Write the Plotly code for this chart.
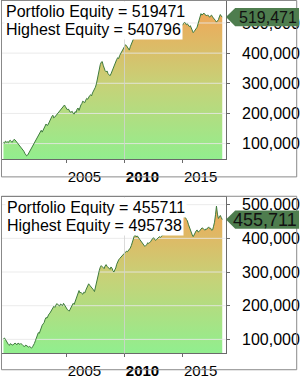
import plotly.graph_objects as go
import pandas as pd

# ---------------- data ----------------
start_date = "1999-08-01"   # monthly points

top_equity = [
    104000, 101000, 108000, 105000, 106000, 103000, 109000, 111000, 107000, 104000,
    110000, 114000, 112000, 108000, 102000, 97000, 93000, 90000, 86000, 83000,
    79000, 75000, 68000, 63000, 59000, 62000, 68000, 74000, 80000, 86000,
    93000, 97000, 105000, 112000, 118000, 122000, 128000, 133000, 140000, 144000,
    138000, 147000, 155000, 158000, 165000, 160000, 162000, 170000, 175000, 182000,
    190000, 194000, 185000, 188000, 192000, 197000, 200000, 203000, 208000, 212000,
    215000, 219000, 225000, 228000, 222000, 216000, 212000, 215000, 208000, 204000,
    205000, 207000, 200000, 198000, 206000, 203000, 214000, 218000, 210000, 220000,
    228000, 233000, 241000, 238000, 236000, 244000, 250000, 247000, 255000, 259000,
    262000, 258000, 268000, 273000, 280000, 287000, 298000, 318000, 335000, 350000,
    362000, 370000, 372000, 360000, 345000, 342000, 338000, 341000, 332000, 328000,
    325000, 331000, 340000, 344000, 352000, 364000, 375000, 379000, 385000, 382000,
    392000, 399000, 405000, 411000, 418000, 424000, 428000, 425000, 420000, 414000,
    410000, 421000, 432000, 437000, 445000, 450000, 455000, 462000, 470000, 474000,
    480000, 486000, 492000, 495000, 500000, 503000, 505000, 501000, 498000, 504000,
    510000, 516000, 520000, 517000, 515000, 521000, 528000, 532000, 535000, 531000,
    540796, 536000, 532000, 528000, 525000, 521000, 518000, 522000, 526000, 529000,
    530000, 526000, 522000, 517000, 512000, 508000, 505000, 510000, 515000, 511000,
    508000, 504000, 500000, 498000, 496000, 493000, 499000, 502000, 500000, 494000,
    497000, 492000, 488000, 491000, 484000, 476000, 468000, 472000, 478000, 481000,
    486000, 497000, 510000, 521000, 531000, 526000, 529000, 533000, 528000, 525000,
    524000, 527000, 522000, 519000, 524000, 526000, 520000, 517000, 513000, 508000,
    503000, 506000, 511000, 520000, 528000, 523000, 519471,
]

bottom_equity = [
    102000, 104000, 100000, 94000, 90000, 85000, 82000, 87000, 86000, 83000,
    84000, 88000, 89000, 86000, 84000, 89000, 86000, 85000, 88000, 84000,
    82000, 80000, 79000, 83000, 81000, 78000, 77000, 79000, 76000, 74000,
    78000, 82000, 88000, 96000, 104000, 112000, 120000, 118000, 128000, 136000,
    142000, 146000, 150000, 159000, 165000, 163000, 170000, 175000, 178000, 184000,
    188000, 192000, 198000, 195000, 200000, 206000, 204000, 201000, 199000, 205000,
    203000, 200000, 207000, 202000, 196000, 191000, 188000, 186000, 184000, 190000,
    195000, 202000, 207000, 204000, 212000, 216000, 222000, 236000, 245000, 238000,
    240000, 236000, 234000, 240000, 238000, 246000, 252000, 260000, 265000, 261000,
    258000, 255000, 252000, 247000, 242000, 256000, 268000, 280000, 292000, 305000,
    314000, 319000, 316000, 312000, 310000, 318000, 322000, 317000, 314000, 310000,
    308000, 315000, 312000, 304000, 300000, 306000, 312000, 323000, 332000, 336000,
    340000, 344000, 347000, 350000, 352000, 356000, 358000, 362000, 360000, 363000,
    366000, 371000, 378000, 390000, 400000, 406000, 410000, 404000, 408000, 403000,
    400000, 396000, 392000, 388000, 384000, 380000, 376000, 379000, 381000, 387000,
    385000, 388000, 390000, 395000, 399000, 402000, 398000, 394000, 396000, 399000,
    400000, 405000, 403000, 407000, 408000, 411000, 410000, 414000, 412000, 417000,
    415000, 419000, 422000, 428000, 432000, 437000, 440000, 444000, 446000, 449000,
    452000, 455000, 458000, 461000, 462000, 466000, 465000, 463000, 462000, 456000,
    452000, 442000, 432000, 426000, 420000, 410000, 405000, 412000, 418000, 422000,
    425000, 419000, 420000, 424000, 426000, 431000, 430000, 426000, 424000, 428000,
    427000, 431000, 434000, 429000, 430000, 424000, 425000, 436000, 448000, 470000,
    495738, 472000, 459000, 463000, 468000, 462000, 455711,
]

top_current, top_highest = 519471, 540796
bottom_current, bottom_highest = 455711, 495738

x_tick_years = [2005, 2010, 2015]
bold_years = [2010]
grid_years = [2010]
y_tick_vals = [100000, 200000, 300000, 400000, 500000]

x_range = ["1999-06-16", "2018-09-22"]
top_y_range = [48000, 573000]
bottom_y_range = [58400, 523500]

# ---------------- style ----------------
W, H = 300, 379
FONT = "Arial, Liberation Sans, sans-serif"
LINE_GREEN = "#3e7b3e"
BADGE_GREEN = "#4e7d4e"
GRAD = [[0.0, "#92ee8e"], [0.5, "#c6d278"], [1.0, "#f0a758"]]
AXIS_GRAY = "#6a6a6a"
FRAME_GRAY = "#8a8a8a"
GRID_COLOR = "rgba(232,232,232,0.85)"
PLOT_X0, PLOT_X1 = 2.0, 226.6


def py(px):
    """pixel row -> paper y"""
    return 1 - px / H


def px_x(px):
    return px / W


fig = go.Figure()

panels = [
    dict(vals=top_equity, cur=top_current, hi=top_highest, yr=top_y_range,
         dom=[py(162.7), py(1.0)], ax="", top=1.0, frame=(0.5, 180.7),
         badge_font=16, text_left=4.0),
    dict(vals=bottom_equity, cur=bottom_current, hi=bottom_highest, yr=bottom_y_range,
         dom=[py(361.0), py(201.0)], ax="2", top=201.0, frame=(200.5, 377.7),
         badge_font=18, text_left=5.5),
]

shapes = []
annotations = []
layout_axes = {}

for p in panels:
    ax = p["ax"]
    xname, yname = "x" + ax, "y" + ax
    dates = pd.date_range(start_date, periods=len(p["vals"]), freq="MS")

    # gradient area
    fig.add_trace(go.Scatter(
        x=dates, y=p["vals"], xaxis=xname, yaxis=yname,
        mode="lines", line=dict(width=0),
        fill="tozeroy",
        fillgradient=dict(type="vertical", colorscale=GRAD,
                          start=min(p["vals"]), stop=max(p["vals"])),
        hoverinfo="skip", showlegend=False,
    ))

    # horizontal grid, drawn over the area
    gx, gy_ = [], []
    for v in y_tick_vals:
        gx += [x_range[0], x_range[1], None]
        gy_ += [v, v, None]
    fig.add_trace(go.Scatter(
        x=gx, y=gy_, xaxis=xname, yaxis=yname, mode="lines",
        line=dict(color=GRID_COLOR, width=1), hoverinfo="skip", showlegend=False,
    ))

    # equity line
    fig.add_trace(go.Scatter(
        x=dates, y=p["vals"], xaxis=xname, yaxis=yname,
        mode="lines", line=dict(color=LINE_GREEN, width=1),
        hoverinfo="skip", showlegend=False,
    ))

    layout_axes["xaxis" + ax] = dict(
        domain=[px_x(PLOT_X0), px_x(PLOT_X1)], anchor=yname, range=x_range,
        type="date", showgrid=False, zeroline=False,
        showline=True, linecolor=AXIS_GRAY, linewidth=1, mirror=True,
        ticks="outside", ticklen=3, tickcolor=AXIS_GRAY,
        tickvals=[f"{y}-01-01" for y in x_tick_years],
        ticktext=[f"<b>{y}</b>" if y in bold_years else str(y) for y in x_tick_years],
        tickfont=dict(family=FONT, size=15, color="#000"),
        ticklabelshift=18, ticklabelstandoff=1,
    )
    layout_axes["yaxis" + ax] = dict(
        domain=p["dom"], anchor=xname, range=p["yr"], side="right",
        showgrid=False, zeroline=False,
        showline=True, linecolor=AXIS_GRAY, linewidth=1, mirror=True,
        ticks="outside", ticklen=3, tickcolor=AXIS_GRAY,
        tickvals=y_tick_vals, tickformat=",d",
        tickfont=dict(family=FONT, size=16, color="#000"),
        ticklabelstandoff=9,
    )

    for gyr in grid_years:
        shapes.append(dict(type="line", xref=xname, yref=yname + " domain",
                           x0=f"{gyr}-01-01", x1=f"{gyr}-01-01", y0=0, y1=1, layer="above",
                           line=dict(color="rgba(210,210,210,0.8)", width=1)))

    # outer frame
    f0, f1 = p["frame"]
    shapes.append(dict(type="rect", xref="paper", yref="paper",
                       x0=px_x(1.5), x1=px_x(297.7), y0=py(f1), y1=py(f0),
                       line=dict(color=FRAME_GRAY, width=1), fillcolor="rgba(0,0,0,0)",
                       layer="above"))

    # value badge
    shapes.append(dict(type="path", xref="paper", yref=yname, ysizemode="pixel",
                       yanchor=p["cur"],
                       path=f"M {px_x(226.7)},0 L {px_x(236)},9.2 L 1,9.2 L 1,-9.2 L {px_x(236)},-9.2 Z",
                       fillcolor=BADGE_GREEN, line=dict(width=0), layer="above"))
    annotations.append(dict(xref="paper", yref=yname, x=px_x(298.8), y=p["cur"],
                            xanchor="right", yanchor="middle", showarrow=False,
                            text=f"{p['cur']:,}", borderpad=0,
                            font=dict(family=FONT, size=p["badge_font"], color="#111")))

    # title text lines
    t = p["top"]
    lines = [f"Portfolio Equity = {p['cur']}", f"Highest Equity = {p['hi']}"]
    for k, txt in enumerate(lines):
        annotations.append(dict(xref="paper", yref="paper",
                                x=px_x(p["text_left"]), y=py(t + 10.5 + 18.8 * k),
                                xanchor="left", yanchor="middle", showarrow=False,
                                text=txt, bgcolor="white", borderpad=1,
                                font=dict(family=FONT, size=16, color="#000")))

fig.update_layout(
    width=W, height=H, margin=dict(l=0, r=0, t=0, b=0),
    paper_bgcolor="white", plot_bgcolor="white",
    shapes=shapes, annotations=annotations, showlegend=False,
    **layout_axes,
)

fig.write_html("out.html")
